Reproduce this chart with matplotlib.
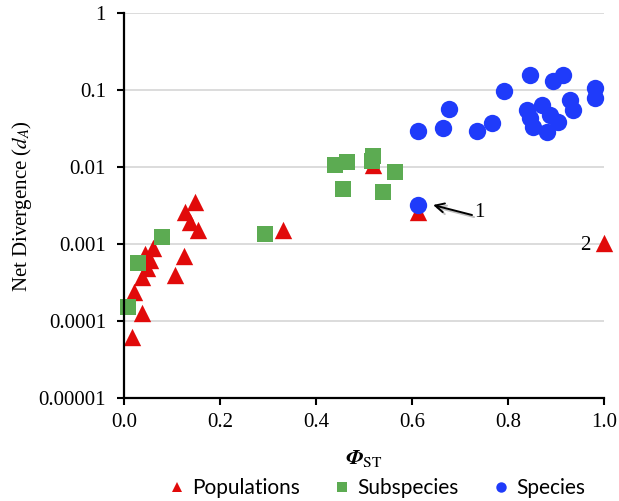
import matplotlib
matplotlib.use("Agg")
import matplotlib.pyplot as plt
from matplotlib.lines import Line2D
import matplotlib.patheffects as pe

# ---- data (Phi_ST, net divergence dA) ----
pop_x = [0.148, 0.127, 0.1375, 0.154, 0.125, 0.106, 0.060, 0.044, 0.054, 0.048,
         0.0375, 0.021, 0.0375, 0.017, 0.331, 0.519, 0.6125, 1.0]
pop_y = [0.00351, 0.00260, 0.00193, 0.00152, 0.000698, 0.000396, 0.000887, 0.000741,
         0.000620, 0.000488, 0.000373, 0.000238, 0.000127, 0.0000620, 0.00152,
         0.0106, 0.00260, 0.00103]

sub_x = [0.029, 0.079, 0.0083, 0.294, 0.44, 0.465, 0.519, 0.517, 0.565, 0.456, 0.540]
sub_y = [0.000566, 0.00123, 0.000152, 0.00135, 0.0106, 0.0116, 0.0139, 0.0120,
         0.00861, 0.00518, 0.00473]

spe_x = [0.6125, 0.6125, 0.665, 0.677, 0.735, 0.767, 0.792, 0.846, 0.894, 0.915,
         0.981, 0.981, 0.929, 0.935, 0.840, 0.871, 0.852, 0.881, 0.904, 0.8875, 0.846]
spe_y = [0.00321, 0.0294, 0.0321, 0.0566, 0.0294, 0.0373, 0.0971, 0.157, 0.131, 0.157,
         0.106, 0.0787, 0.0742, 0.0550, 0.0550, 0.0638, 0.0331, 0.0285, 0.0384,
         0.0473, 0.0433]

series_names = ["Populations", "Subspecies", "Species"]
yticks = [0.00001, 0.0001, 0.001, 0.01, 0.1, 1]
ytick_labels = ["0.00001", "0.0001", "0.001", "0.01", "0.1", "1"]
xticks = [0.0, 0.2, 0.4, 0.6, 0.8, 1.0]
xtick_labels = ["0.0", "0.2", "0.4", "0.6", "0.8", "1.0"]

RED = "#E10A0A"
GREEN = "#5CAB52"
BLUE = "#1F3BFA"

plt.rcParams["mathtext.fontset"] = "stix"
serif = "Liberation Serif"

fig = plt.figure(figsize=(6.19, 5.01), dpi=100)
ax = fig.add_axes([0.2003, 0.2056, 0.7755, 0.7684])

ax.scatter(pop_x, pop_y, marker="^", s=12.5**2, color=RED, linewidths=0, zorder=3, clip_on=False)
ax.scatter(sub_x, sub_y, marker="s", s=11.5**2, color=GREEN, linewidths=0, zorder=4, clip_on=False)
ax.scatter(spe_x, spe_y, marker="o", s=12.5**2, color=BLUE, linewidths=0, zorder=5, clip_on=False)

ax.set_yscale("log")
ax.set_ylim(0.00001, 1)
ax.set_xlim(0, 1)
ax.set_yticks(yticks)
ax.set_yticklabels(ytick_labels)
ax.set_xticks(xticks)
ax.set_xticklabels(xtick_labels)
ax.yaxis.set_minor_locator(matplotlib.ticker.NullLocator())

for lab in ax.get_xticklabels() + ax.get_yticklabels():
    lab.set_fontfamily(serif)
    lab.set_fontsize(15)
ax.tick_params(axis="both", direction="out", length=5, width=1.5, color="black")
ax.tick_params(axis="y", pad=8)
ax.tick_params(axis="x", pad=6)

ax.grid(axis="y", color="#D9D9D9", linewidth=1.3, zorder=0)
ax.set_axisbelow(True)
for s in ["top", "right"]:
    ax.spines[s].set_visible(False)
for s in ["left", "bottom"]:
    ax.spines[s].set_linewidth(1.6)
    ax.spines[s].set_zorder(6)

ax.set_ylabel(r"Net Divergence ($d_A$)", fontfamily=serif, fontsize=15, labelpad=3)
ax.set_xlabel(r"$\mathbfit{\Phi}_{\mathrm{ST}}$", fontsize=16, labelpad=11)

# annotations
ax.annotate("", xy=(0.644, 0.00321), xytext=(0.725, 0.00238),
            arrowprops=dict(arrowstyle="->", color="black", lw=1.4,
                            mutation_scale=16, shrinkA=0, shrinkB=0,
                            path_effects=[pe.SimpleLineShadow(offset=(1.5, -1.5), alpha=0.25),
                                          pe.Normal()]),
            zorder=7)
ax.text(0.74, 0.00253, "1", fontfamily=serif, fontsize=15, ha="center", va="center")
ax.text(0.96, 0.00097, "2", fontfamily=serif, fontsize=15, ha="center", va="center")

handles = [
    Line2D([], [], linestyle="none", marker="^", markersize=6.5, color=RED, markeredgewidth=0),
    Line2D([], [], linestyle="none", marker="s", markersize=7.5, color=GREEN, markeredgewidth=0),
    Line2D([], [], linestyle="none", marker="o", markersize=7.5, color=BLUE, markeredgewidth=0),
]
fig.legend(handles, series_names, loc="center", bbox_to_anchor=(377 / 619, 1 - 488 / 501),
           ncol=3, frameon=False, prop={"family": "Lato", "size": 15},
           handlelength=0.8, handletextpad=0.35, columnspacing=1.6, borderpad=0)

fig.savefig("out.png", dpi=100)
